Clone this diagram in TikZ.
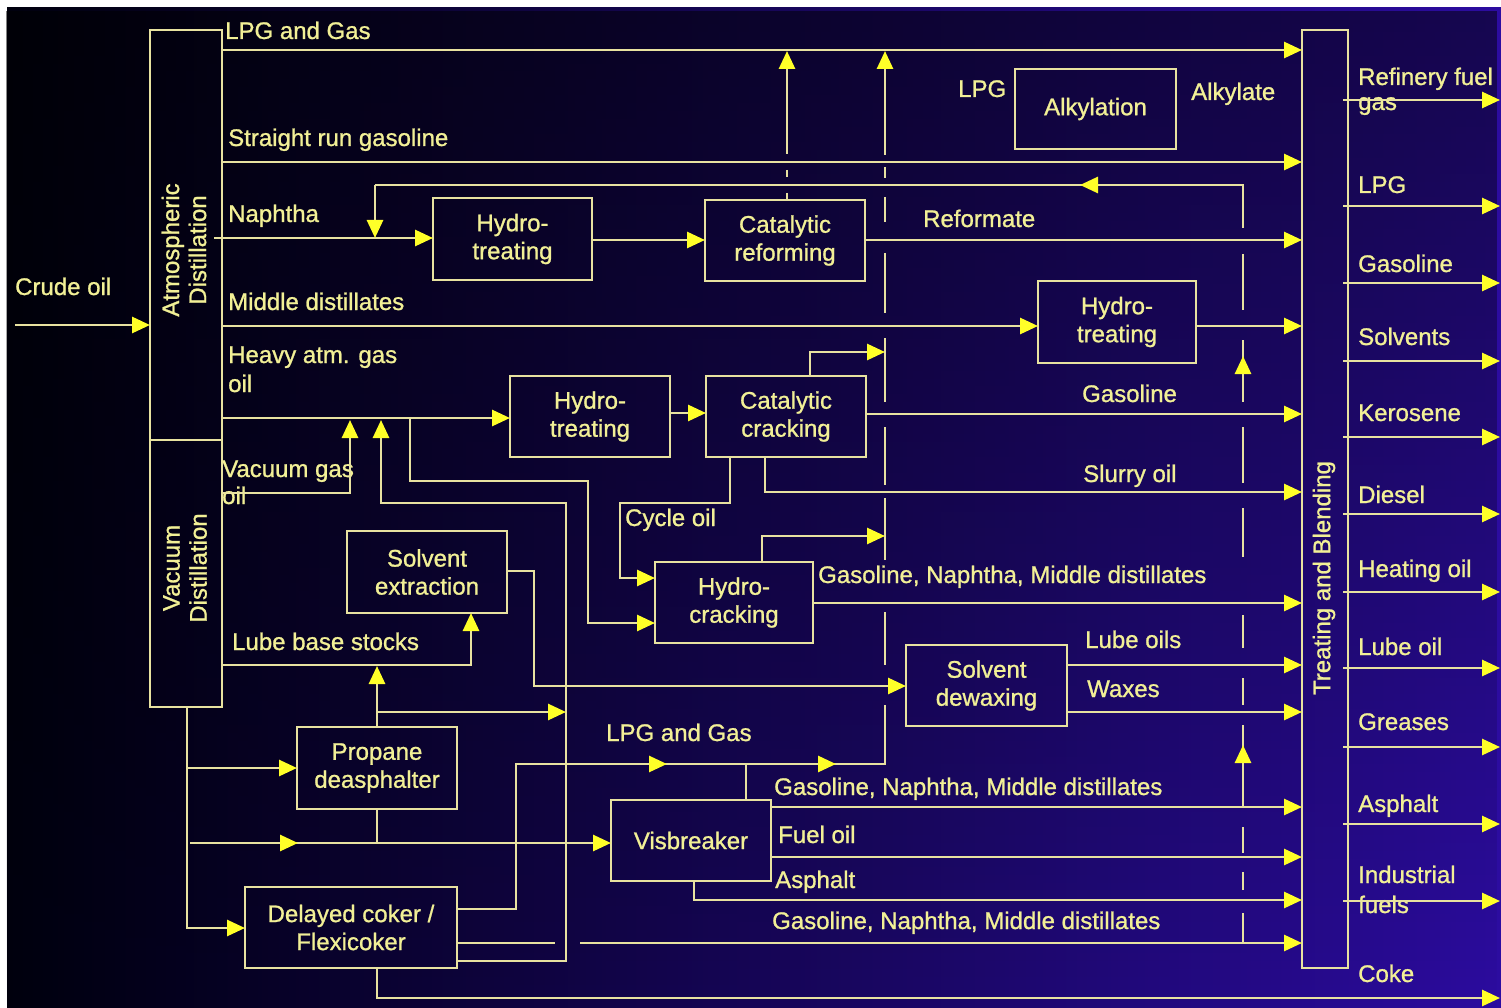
\documentclass[tikz,border=0pt]{standalone}
\usepackage{fontspec}
\setmainfont{Liberation Sans}[FakeBold=1]
\usetikzlibrary{arrows.meta,fadings}
\definecolor{linecol}{RGB}{232,226,160}
\definecolor{arrcol}{RGB}{255,255,40}
\definecolor{txtcol}{RGB}{242,240,150}
\definecolor{bgL}{RGB}{0,0,14}
\definecolor{bgM}{RGB}{28,8,118}
\definecolor{bgR}{RGB}{44,12,160}
\tikzfading[name=topdark, top color=transparent!0, bottom color=transparent!100]
\begin{document}
\begin{tikzpicture}[x=1pt,y=-1pt,
  ln/.style={draw=linecol, line width=2.8pt},
  arr/.style={ln, -{Triangle[length=18pt,width=16pt,color=arrcol]}},
  box/.style={draw=linecol, line width=2.8pt, text=txtcol, font=\fontsize{24}{28}\selectfont, align=center, inner sep=0pt, outer sep=0pt},
  lab/.style={text=txtcol, font=\fontsize{24}{28}\selectfont, inner sep=0pt, anchor=base west},
  rlab/.style={text=txtcol, font=\fontsize{24}{27}\selectfont, inner sep=0pt, align=center, rotate=90}
]
\useasboundingbox (0,0) rectangle (1501,1008);
\fill[white] (0,0) rectangle (1501,1008);
\shade[left color=bgL, middle color=bgM, right color=bgR] (7,8) rectangle (1501,1008);
\fill[black, opacity=0.5, path fading=topdark] (7,8) rectangle (1501,1008);

% ---- boxes ----
\node[box, minimum width=72pt, minimum height=410pt] (ad) at (186,235) {};
\node[box, minimum width=72pt, minimum height=267pt] (vd) at (186,573.5) {};
\node[box, minimum width=46pt, minimum height=938pt] (tb) at (1325,499) {};
\node[rlab] (adt) at (184,250) {Atmospheric\\Distillation};
\node[rlab] (vdt) at (185,568) {Vacuum\\Distillation};
\node[rlab] (tbt) at (1324,578) {Treating and Blending};

\node[box, minimum width=159pt, minimum height=82pt] (ht1) at (512.5,239) {Hydro-\\treating};
\node[box, minimum width=160pt, minimum height=81pt] (cr) at (785,240.5) {Catalytic\\reforming};
\node[box, minimum width=161pt, minimum height=80pt] (alk) at (1095.5,109) {Alkylation};
\node[box, minimum width=158pt, minimum height=82pt] (ht2) at (1117,322) {Hydro-\\treating};
\node[box, minimum width=160pt, minimum height=81pt] (ht3) at (590,416.5) {Hydro-\\treating};
\node[box, minimum width=160pt, minimum height=81pt] (cc) at (786,416.5) {Catalytic\\cracking};
\node[box, minimum width=160pt, minimum height=82pt] (se) at (427,572) {Solvent\\extraction};
\node[box, minimum width=158pt, minimum height=81pt] (hc) at (734,602.5) {Hydro-\\cracking};
\node[box, minimum width=161pt, minimum height=81pt] (sd) at (986.5,685.5) {Solvent\\dewaxing};
\node[box, minimum width=160pt, minimum height=82pt] (pd) at (377,768) {Propane\\deasphalter};
\node[box, minimum width=160pt, minimum height=81pt] (vb) at (691,840.5) {Visbreaker};
\node[box, minimum width=212pt, minimum height=81pt] (dc) at (351,927.5) {Delayed coker /\\Flexicoker};

% ---- labels ----
\node[lab] (l1) at (15,295) {Crude oil};
\node[lab] (l2) at (225,39) {LPG and Gas};
\node[lab] (l3) at (228,146) {Straight run gasoline};
\node[lab] (l4) at (228,222) {Naphtha};
\node[lab] (l5) at (228,310) {Middle distillates};
\node[lab] (l6) at (228,363) {Heavy atm. gas};
\node[lab] (l7) at (228,392) {oil};
\node[lab] (l8) at (222,477) {Vacuum gas};
\node[lab] (l9) at (222,504) {oil};
\node[lab] (l10) at (232,650) {Lube base stocks};
\node[lab] (l11) at (923,227) {Reformate};
\node[lab] (l12) at (958,97) {LPG};
\node[lab] (l13) at (1191,100) {Alkylate};
\node[lab] (l14) at (1082,402) {Gasoline};
\node[lab] (l15) at (1083,482) {Slurry oil};
\node[lab] (l16) at (818,583) {Gasoline, Naphtha, Middle distillates};
\node[lab] (l17) at (1085,648) {Lube oils};
\node[lab] (l18) at (1087,697) {Waxes};
\node[lab] (l19) at (625,526) {Cycle oil};
\node[lab] (l20) at (606,741) {LPG and Gas};
\node[lab] (l21) at (774,795) {Gasoline, Naphtha, Middle distillates};
\node[lab] (l22) at (778,843) {Fuel oil};
\node[lab] (l23) at (775,888) {Asphalt};
\node[lab] (l24) at (772,929) {Gasoline, Naphtha, Middle distillates};
% right side products
\node[lab] (r1) at (1358,85) {Refinery fuel};
\node[lab] (r1b) at (1358,110) {gas};
\node[lab] (r2) at (1358,193) {LPG};
\node[lab] (r3) at (1358,272) {Gasoline};
\node[lab] (r4) at (1358,345) {Solvents};
\node[lab] (r5) at (1358,421) {Kerosene};
\node[lab] (r6) at (1358,503) {Diesel};
\node[lab] (r7) at (1358,577) {Heating oil};
\node[lab] (r8) at (1358,655) {Lube oil};
\node[lab] (r9) at (1358,730) {Greases};
\node[lab] (r10) at (1358,812) {Asphalt};
\node[lab] (r11) at (1358,883) {Industrial};
\node[lab] (r11b) at (1358,913) {fuels};
\node[lab] (r12) at (1358,982) {Coke};

% ---- product arrows ----
\foreach \yy in {100,206,283,361,437,514,592,668,747,824,901}
  \draw[arr] (1343,\yy) -- (1500,\yy);

% ---- connectors ----
\draw[arr] (15,325) -- (ad.west |- 0,325);
\draw[arr] (ad.east |- 0,50) -- (tb.west |- 0,50);
\draw[arr] (ad.east |- 0,162) -- (tb.west |- 0,162);
\draw[arr] (214,238) -- (ht1.west |- 0,238);
\draw[ln] (1243,228) -- (1243,185) -- (375,185);
\draw[arr] (375,185) -- (375,238);
\draw[arr] (1100,185) -- (1080,185);
\draw[arr] (ht1.east |- 0,240) -- (cr.west |- 0,240);
\draw[arr] (cr.east |- 0,240) -- (tb.west |- 0,240);
\draw[arr] (787,154) -- (787,51);
\draw[ln] (787,170) -- (787,177);
\draw[ln] (787,193) -- (cr.north -| 787,0);
\draw[arr] (ad.east |- 0,326) -- (ht2.west |- 0,326);
\draw[arr] (ht2.east |- 0,326) -- (tb.west |- 0,326);
\draw[arr] (ad.east |- 0,418) -- (ht3.west |- 0,418);
\draw[arr] (vd.east |- 0,493) -- (350,493) -- (350,420);
\draw[arr] (dc.east |- 0,961) -- (566,961) -- (566,503) -- (381,503) -- (381,420);
\draw[arr] (410,418) -- (410,481) -- (588,481) -- (588,623) -- (hc.west |- 0,623);
\draw[arr] (ht3.east |- 0,413) -- (cc.west |- 0,413);
\draw[arr] (cc.north -| 810,0) -- (810,352) -- (885,352);
\draw[arr] (cc.east |- 0,414) -- (tb.west |- 0,414);
\draw[arr] (cc.south -| 765,0) -- (765,492) -- (tb.west |- 0,492);
\draw[arr] (cc.south -| 730,0) -- (730,503) -- (620,503) -- (620,578) -- (hc.west |- 0,578);
\draw[arr] (hc.north -| 762,0) -- (762,536) -- (885,536);
\draw[arr] (hc.east |- 0,603) -- (tb.west |- 0,603);
\draw[arr] (vd.east |- 0,665) -- (471,665) -- (se.south -| 471,0);
\draw[arr] (se.east |- 0,571) -- (534,571) -- (534,686) -- (sd.west |- 0,686);
\draw[arr] (sd.east |- 0,665) -- (tb.west |- 0,665);
\draw[arr] (sd.east |- 0,712) -- (tb.west |- 0,712);
\draw[arr] (vd.south -| 187,0) -- (187,928) -- (dc.west |- 0,928);
\draw[arr] (187,768) -- (pd.west |- 0,768);
\draw[arr] (190,843) -- (vb.west |- 0,843);
\draw[arr] (278,843) -- (298,843);
\draw[ln] (pd.south) -- (377,843);
\draw[arr] (pd.north) -- (377,666);
\draw[arr] (377,712) -- (566,712);
\draw[ln] (dc.east |- 0,909) -- (516,909) -- (516,764) -- (885,764) -- (885,705);
\draw[arr] (646,764) -- (667,764);
\draw[arr] (815,764) -- (836,764);
\draw[ln] (dc.east |- 0,943) -- (555,943);
\draw[arr] (580,943) -- (tb.west |- 0,943);
\draw[arr] (dc.south -| 377,0) -- (377,998) -- (1500,998);
\draw[ln] (vb.north -| 746,0) -- (746,764);
\draw[arr] (vb.east |- 0,807) -- (tb.west |- 0,807);
\draw[arr] (vb.east |- 0,857) -- (tb.west |- 0,857);
\draw[arr] (vb.south -| 694,0) -- (694,900) -- (tb.west |- 0,900);

% ---- broken collector line x=885 ----
\draw[arr] (885,155) -- (885,51);
\foreach \a/\b in {167/178,197/222,253/313,338/402,427/485,498/560,612/665}
  \draw[ln] (885,\a) -- (885,\b);

% ---- broken line x=1243 ----
\foreach \a/\b in {254/310,340/402,427/483,508/557,615/648,678/705,725/807,827/853,872/890,913/943}
  \draw[ln] (1243,\a) -- (1243,\b);
\draw[arr] (1243,376) -- (1243,356);
\draw[arr] (1243,765) -- (1243,745);
\end{tikzpicture}
\end{document}
